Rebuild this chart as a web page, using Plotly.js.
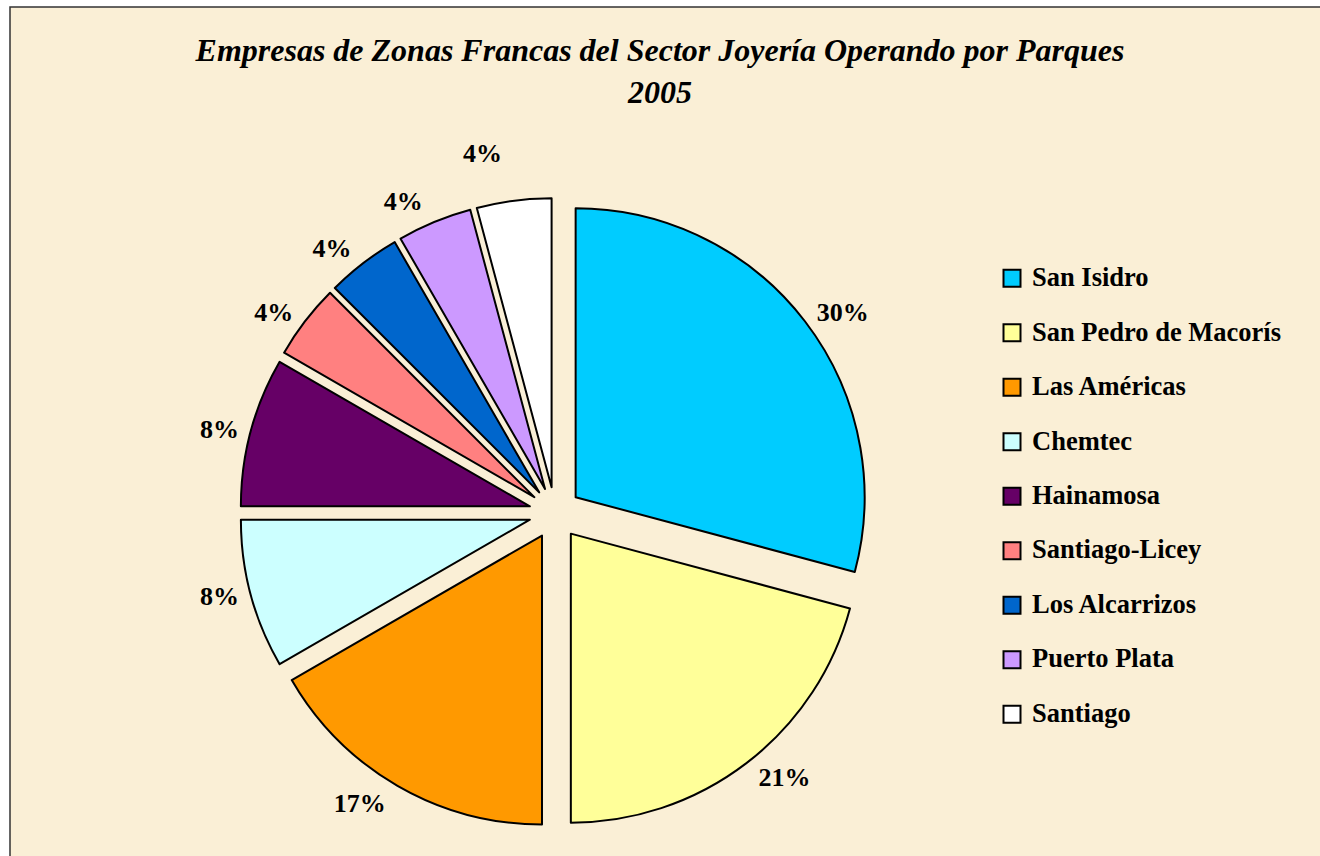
<!DOCTYPE html>
<html>
<head>
<meta charset="utf-8">
<script src="https://cdn.plot.ly/plotly-3.0.1.min.js"></script>
<style>
  html, body { margin: 0; padding: 0; background: #ffffff; }
  #chart { width: 1320px; height: 856px; }
  path.textline { stroke-opacity: 0 !important; }
  path.legendpie { d: path("M8.5,8.5H-8.5V-8.5H8.5Z"); }
</style>
</head>
<body>
<div id="chart"></div>
<script>
// Data
const parques = ["San Isidro", "San Pedro de Macorís", "Las Américas", "Chemtec", "Hainamosa",
                 "Santiago-Licey", "Los Alcarrizos", "Puerto Plata", "Santiago"];
const empresas = [7, 5, 4, 2, 2, 1, 1, 1, 1];
const porcentajes = ["30%", "21%", "17%", "8%", "8%", "4%", "4%", "4%", "4%"];
const colores = ["#00CCFF", "#FFFF99", "#FF9900", "#CCFFFF", "#660066",
                 "#FF8080", "#0066CC", "#CC99FF", "#FFFFFF"];
const titulo = "Empresas de Zonas Francas del Sector Joyería Operando por Parques<br>2005";

const serif = "'Liberation Serif', 'Times New Roman', serif";

const legendLabels = parques.map(p => '<span style="font-size:26.5px">' + p + '</span><br> ');
// symmetric blank lines above/below keep the outside labels a bit farther from the pie
const pad = '<span style="font-size:26px"> </span>';
const sliceLabels = porcentajes.map(p => pad + '<br><span style="font-size:26px">' + p + '</span><br>' + pad);

const trace = {
  type: "pie",
  labels: legendLabels,
  values: empresas,
  text: sliceLabels,
  textinfo: "text",
  textposition: "outside",
  textfont: { family: serif, size: 7, color: "#000000", weight: "bold" },
  sort: false,
  direction: "clockwise",
  rotation: 0,
  pull: parques.map(() => 0.09),
  marker: { colors: colores, line: { color: "#000000", width: 2 } },
  domain: { x: [240 / 1320, 870 / 1320], y: [1 - 828 / 856, 1 - 198 / 856] },
  hoverinfo: "value+percent"
};

const layout = {
  width: 1320,
  height: 856,
  margin: { l: 0, r: 0, t: 0, b: 0 },
  paper_bgcolor: "#ffffff",
  title: {
    text: titulo,
    font: { family: serif, size: 32, color: "#000000", weight: "bold", style: "italic" },
    x: 0.5, xanchor: "center",
    y: 1 - 61 / 856, yanchor: "top"
  },
  showlegend: true,
  legend: {
    x: 992 / 1320, xanchor: "left",
    y: 1 - 259 / 856, yanchor: "top",
    valign: "top",
    bgcolor: "rgba(0,0,0,0)",
    font: { family: serif, size: 19.8, color: "#000000", weight: "bold" }
  },
  shapes: [{
    type: "rect", xref: "paper", yref: "paper", layer: "below",
    x0: 10 / 1320, x1: 1.02, y0: -0.02, y1: 1 - 7 / 856,
    fillcolor: "#FAEFD6", line: { color: "#333333", width: 1.5 }
  }]
};

Plotly.newPlot("chart", [trace], layout, { displayModeBar: false, staticPlot: true });
</script>
</body>
</html>
